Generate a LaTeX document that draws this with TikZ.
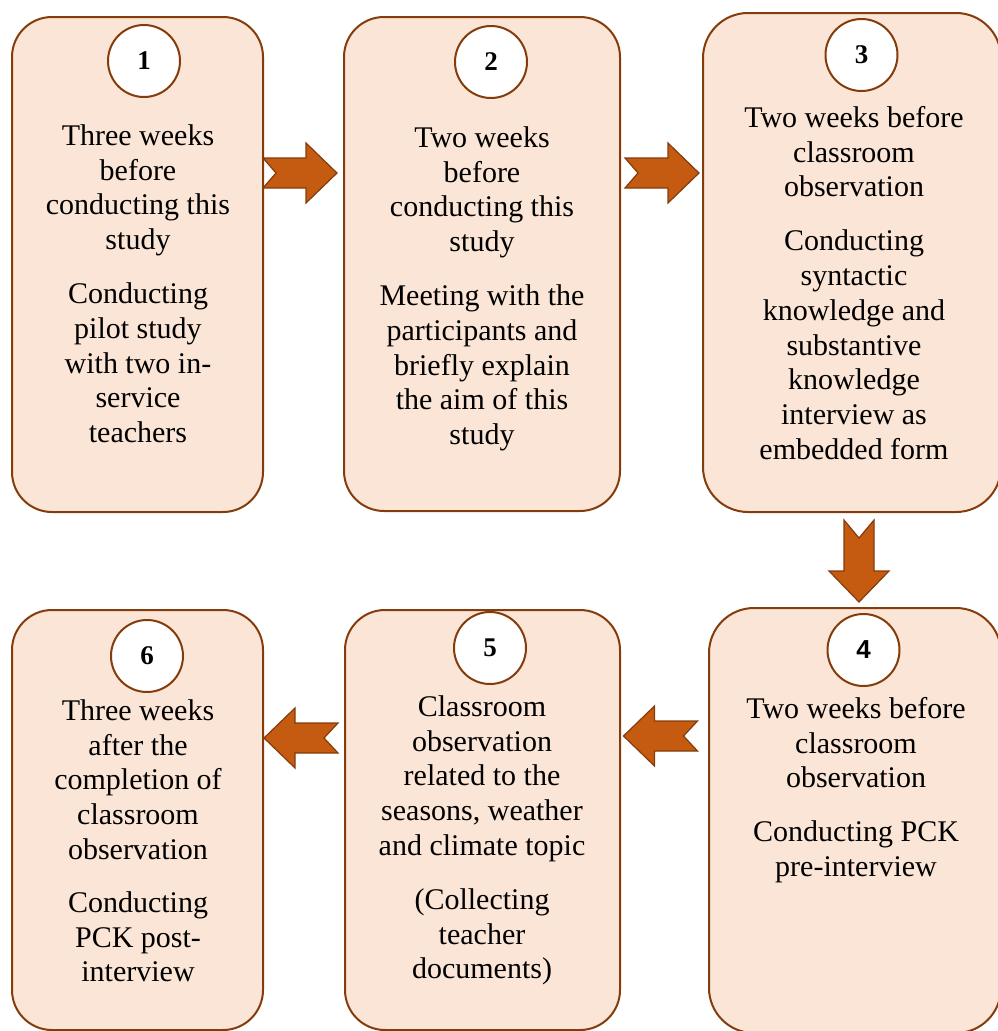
\documentclass[tikz,border=0pt]{standalone}
\usepackage{fontspec}
\setmainfont{Liberation Serif}
\newfontfamily\numsans{Liberation Sans}
\definecolor{boxfill}{HTML}{FBE5D6}
\definecolor{boxline}{HTML}{843C0C}
\definecolor{arrowfill}{HTML}{C55A11}

% notched block arrow: position, direction angle, half length, notch depth
\newcommand\notchedarrow[4]{%
  \draw[blockarrow, shift={(#1)}, rotate=#2]
    (-#3,-15) -- (#3-31,-15) -- (#3-31,-30) -- (#3,0) -- (#3-31,30)
    -- (#3-31,15) -- (-#3,15) -- (-#3+#4,0) -- cycle;}

\begin{document}
\begin{tikzpicture}[x=1pt,y=-1pt,
  stage/.style={draw=boxline, fill=boxfill, line width=2pt, rounded corners=40pt, inner sep=0pt},
  num/.style={circle, draw=boxline, fill=white, line width=2pt, minimum size=72pt, inner sep=0pt,
              font=\fontsize{27}{27}\selectfont\bfseries},
  txt/.style={anchor=north, align=center, inner sep=0pt, text=black,
              font=\fontsize{30}{34.8}\selectfont},
  blockarrow/.style={draw=boxline, fill=arrowfill, line width=1.2pt, line join=miter}]
\useasboundingbox (0,0) rectangle (997,1031);

% stage boxes
\node[stage, minimum width=251pt, minimum height=495pt] (b1) at (137.5,264.5) {};
\node[stage, minimum width=276pt, minimum height=494pt] (b2) at (482,264) {};
\node[stage, rounded corners=45pt, minimum width=298pt, minimum height=499pt] (b3) at (852,262.5) {};
\node[stage, rounded corners=45pt, minimum width=292pt, minimum height=425pt] (b4) at (855,820.5) {};
\node[stage, minimum width=275pt, minimum height=420pt] (b5) at (482.5,820) {};
\node[stage, minimum width=251pt, minimum height=420pt] (b6) at (137.5,820) {};

% arrows between the stages
\coordinate (a12) at (300,173);
\coordinate (a23) at (662,173);
\coordinate (a34) at (859,561);
\coordinate (a45) at (660.5,736);
\coordinate (a56) at (301,738);
\notchedarrow{a12}{0}{37}{13}
\notchedarrow{a23}{0}{37}{13}
\notchedarrow{a34}{-90}{41}{18}
\notchedarrow{a45}{180}{37}{14}
\notchedarrow{a56}{180}{37}{14}

% step numbers
\node[num] (n1) at (144,61) {1};
\node[num] (n2) at (491,62) {2};
\node[num] (n3) at (861.5,55) {3};
\node[num, font=\fontsize{26}{26}\selectfont\numsans\bfseries] (n4) at (863.5,650) {4};
\node[num] (n5) at (490,648) {5};
\node[num] (n6) at (147,656) {6};

% stage descriptions
\node[txt] (t1) at (138,123) {\rule{0pt}{22pt}Three weeks\\before\\conducting this\\study\\[19pt]Conducting\\pilot study\\with two in-\\service\\teachers};
\node[txt] (t2) at (482,125) {\rule{0pt}{22pt}Two weeks\\before\\conducting this\\study\\[19pt]Meeting with the\\participants and\\briefly explain\\the aim of this\\study};
\node[txt] (t3) at (854,105) {\rule{0pt}{22pt}Two weeks before\\classroom\\observation\\[19pt]Conducting\\syntactic\\knowledge and\\substantive\\knowledge\\interview as\\embedded form};
\node[txt] (t4) at (856,696) {\rule{0pt}{22pt}Two weeks before\\classroom\\observation\\[19pt]Conducting PCK\\pre-interview};
\node[txt] (t5) at (482,694) {\rule{0pt}{22pt}Classroom\\observation\\related to the\\seasons, weather\\and climate topic\\[19pt](Collecting\\teacher\\documents)};
\node[txt] (t6) at (138,698) {\rule{0pt}{22pt}Three weeks\\after the\\completion of\\classroom\\observation\\[18pt]Conducting\\PCK post-\\interview};
\end{tikzpicture}
\end{document}
